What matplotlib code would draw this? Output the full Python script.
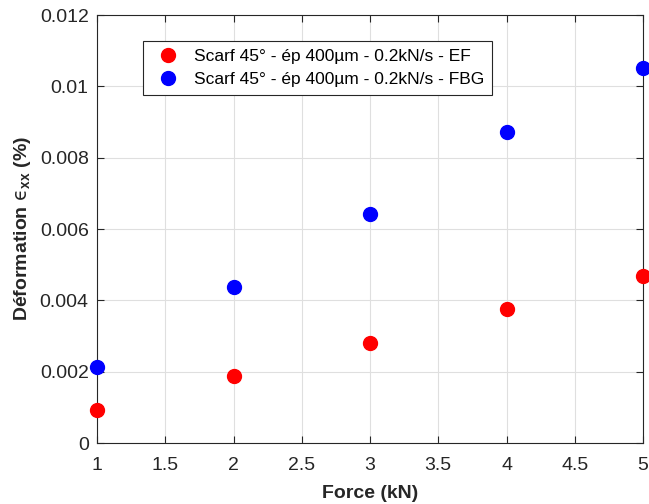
import matplotlib
matplotlib.use("Agg")
import matplotlib.pyplot as plt

plt.rcParams['font.family'] = ['Liberation Sans', 'DejaVu Sans']
plt.rcParams['mathtext.fontset'] = 'custom'
plt.rcParams['mathtext.rm'] = 'DejaVu Sans'
plt.rcParams['mathtext.bf'] = 'Liberation Sans:bold'

force = [1, 2, 3, 4, 5]
strain_ef = [0.000925, 0.00188, 0.0028, 0.00376, 0.00468]
strain_fbg = [0.00213, 0.00437, 0.00642, 0.00872, 0.01051]

label_ef = "Scarf 45° - ép 400µm - 0.2kN/s - EF"
label_fbg = "Scarf 45° - ép 400µm - 0.2kN/s - FBG"

fig = plt.figure(figsize=(6.49, 5.04), dpi=100)
ax = fig.add_axes([97/649, 61/504, 546/649, 428/504])

ax.plot(force, strain_ef, 'o', color='red', ms=10, label=label_ef, clip_on=False, zorder=3)
ax.plot(force, strain_fbg, 'o', color='blue', ms=10, label=label_fbg, clip_on=False, zorder=3)

ax.set_xlim(1, 5)
ax.set_ylim(0, 0.012)
ax.set_xticks([1, 1.5, 2, 2.5, 3, 3.5, 4, 4.5, 5])
ax.set_xticklabels(['1', '1.5', '2', '2.5', '3', '3.5', '4', '4.5', '5'])
ax.set_yticks([0, 0.002, 0.004, 0.006, 0.008, 0.01, 0.012])
ax.set_yticklabels(['0', '0.002', '0.004', '0.006', '0.008', '0.01', '0.012'])
ax.grid(True, color='#dfdfdf', lw=0.8)
ax.set_axisbelow(True)
ax.tick_params(direction='in', length=5, width=0.8, labelsize=14, colors='#262626',
               top=True, right=True)
ax.tick_params(axis='x', pad=10)
ax.tick_params(axis='y', pad=6)
for s in ax.spines.values():
    s.set_color('#262626')
    s.set_linewidth(0.8)

ax.set_xlabel('Force (kN)', fontsize=14, fontweight='bold', color='#262626', labelpad=8)
ax.set_ylabel('Déformation $\\mathrm{\u03f5}_{\\mathbf{xx}}$ (%)', fontsize=14, fontweight='bold',
              color='#262626', labelpad=5)

leg = ax.legend(loc='upper left', bbox_to_anchor=(46/546, 1 - 26/428), fontsize=12.5,
                frameon=True, fancybox=False, edgecolor='#262626', framealpha=1,
                handletextpad=0.5, borderpad=0.45, labelspacing=0.45, borderaxespad=0)
leg.get_frame().set_linewidth(0.8)

fig.savefig('out.png', dpi=100)
